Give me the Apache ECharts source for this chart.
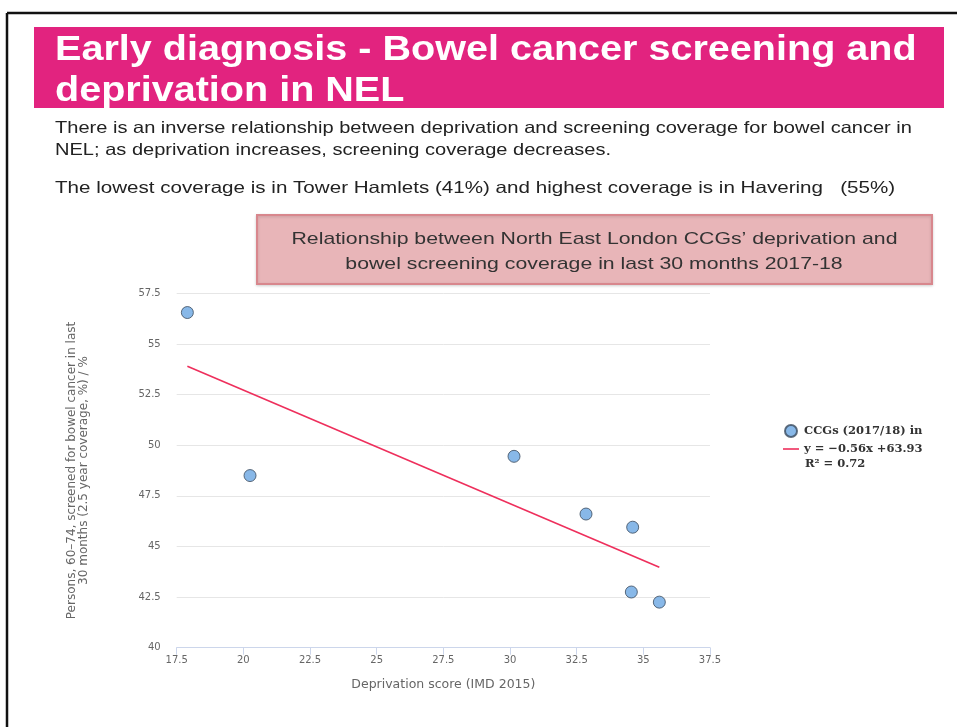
<!DOCTYPE html>
<html>
<head>
<meta charset="utf-8">
<script src="https://cdn.jsdelivr.net/npm/echarts@6/dist/echarts.min.js"></script>
<style>
html,body{margin:0;padding:0;background:#fff;}
#chart{width:957px;height:727px;}
</style>
</head>
<body>
<div id="chart"></div>
<script>
// Data
const ccgDeprivation = [17.9, 20.25, 30.15, 32.85, 34.6, 34.55, 35.6];
const ccgCoverage    = [56.55, 48.5, 49.45, 46.6, 45.95, 42.75, 42.25];
const trendX = [17.9, 35.6];
const trendY = [53.9, 43.97];
const xTicks = { min: 17.5, max: 37.5, step: 2.5 };
const yTicks = { min: 40, max: 57.5, step: 2.5 };
const scatterName = 'CCGs (2017/18) in';
const trendName = 'y = \u22120.56x +63.93';
const trendR2 = 'R\u00b2 = 0.72';
const titleLines = ['Early diagnosis - Bowel cancer screening and', 'deprivation in NEL'];
const bodyLines = [
  'There is an inverse relationship between deprivation and screening coverage for bowel cancer in',
  'NEL; as deprivation increases, screening coverage decreases.',
  'The lowest coverage is in Tower Hamlets (41%) and highest coverage is in Havering   (55%)'
];
const boxLines = [
  'Relationship between North East London CCGs\u2019 deprivation and',
  'bowel screening coverage in last 30 months 2017-18'
];
const xTitle = 'Deprivation score (IMD 2015)';
const yTitle = 'Persons, 60\u201374, screened for bowel cancer in last\n30 months (2.5 year coverage, %) / %';

const scatterData = ccgDeprivation.map((x, i) => [x, ccgCoverage[i]]);
const trendData = trendX.map((x, i) => [x, trendY[i]]);

const chart = echarts.init(document.getElementById('chart'), null, {renderer: 'canvas'});
const sans = 'Liberation Sans, Arial, sans-serif';
const axisFont = 'DejaVu Sans, sans-serif';
const legendFont = 'DejaVu Serif, serif';

function textEl(str, x, y, font, fill, scaleX, align) {
  return { type: 'text', x: x, y: y, scaleX: scaleX, style: { text: str, fill: fill, font: font, align: align || 'left', verticalAlign: 'middle' } };
}

chart.setOption({
  animation: false,
  backgroundColor: '#ffffff',
  graphic: [
    { type: 'line', shape: {x1: 7, y1: 13, x2: 957, y2: 13}, style: {stroke: '#111', lineWidth: 2.5} },
    { type: 'line', shape: {x1: 7, y1: 13, x2: 7, y2: 727}, style: {stroke: '#111', lineWidth: 2.5} },
    { type: 'rect', shape: {x: 34, y: 27, width: 910, height: 81}, style: {fill: '#e2237f'} },
    textEl(titleLines[0], 55, 50, 'bold 35px ' + sans, '#fff', 1.13),
    textEl(titleLines[1], 55, 91, 'bold 35px ' + sans, '#fff', 1.13),
    textEl(bodyLines[0], 55, 128, '16.5px ' + sans, '#222', 1.215),
    textEl(bodyLines[1], 55, 150, '16.5px ' + sans, '#222', 1.215),
    textEl(bodyLines[2], 55, 188, '16.5px ' + sans, '#222', 1.248),
    { type: 'rect', shape: {x: 257, y: 215, width: 675, height: 69}, style: {fill: '#e8b5b8', stroke: '#d8878d', lineWidth: 2, shadowBlur: 3, shadowColor: 'rgba(0,0,0,0.15)', shadowOffsetY: 1} },
    textEl(boxLines[0], 594.5, 239, '17px ' + sans, '#333', 1.25, 'center'),
    textEl(boxLines[1], 594, 264, '17px ' + sans, '#333', 1.25, 'center'),
    textEl(trendR2, 805, 464, 'bold 11.5px ' + legendFont, '#333', 1)
  ],
  grid: { left: 176.7, right: 247, top: 293.3, bottom: 79.3, containLabel: false },
  legend: {
    orient: 'vertical',
    left: 783, top: 424,
    padding: 0,
    itemGap: 4,
    itemWidth: 16, itemHeight: 12,
    textStyle: { fontFamily: legendFont, fontWeight: 'bold', fontSize: 11.5, color: '#333', lineHeight: 14 },
    data: [
      { name: scatterName, icon: 'circle' },
      { name: trendName, icon: 'path://M0,5.2 L16,5.2 L16,6.8 L0,6.8 Z' }
    ]
  },
  xAxis: {
    type: 'value', min: xTicks.min, max: xTicks.max, interval: xTicks.step,
    name: xTitle, nameLocation: 'middle', nameGap: 31,
    nameTextStyle: { color: '#666', fontSize: 12.5, fontFamily: axisFont },
    axisLine: { show: true, lineStyle: { color: '#ccd6eb' } },
    axisTick: { show: true, length: 7, lineStyle: { color: '#ccd6eb' } },
    axisLabel: { color: '#666', fontSize: 10, fontFamily: axisFont, margin: 8 },
    splitLine: { show: false }
  },
  yAxis: {
    type: 'value', min: yTicks.min, max: yTicks.max, interval: yTicks.step,
    name: yTitle, nameLocation: 'middle', nameGap: 87, nameRotate: 90,
    nameTextStyle: { color: '#666', fontSize: 12, fontFamily: axisFont, lineHeight: 12 },
    axisLine: { show: false },
    axisTick: { show: false },
    axisLabel: { color: '#666', fontSize: 10, fontFamily: axisFont, margin: 16 },
    splitLine: { show: true, lineStyle: { color: '#e6e6e6' } }
  },
  series: [
    {
      name: scatterName, type: 'scatter', data: scatterData,
      symbol: 'circle', symbolSize: 12,
      itemStyle: { color: '#6aa6e2', borderColor: '#3a4a5c', borderWidth: 1 }
    },
    {
      name: trendName, type: 'line', data: trendData,
      showSymbol: false, symbol: 'none',
      lineStyle: { color: '#ee2f5c', width: 1.6 },
      itemStyle: { color: '#ee2f5c' }
    }
  ]
});
</script>
</body>
</html>
